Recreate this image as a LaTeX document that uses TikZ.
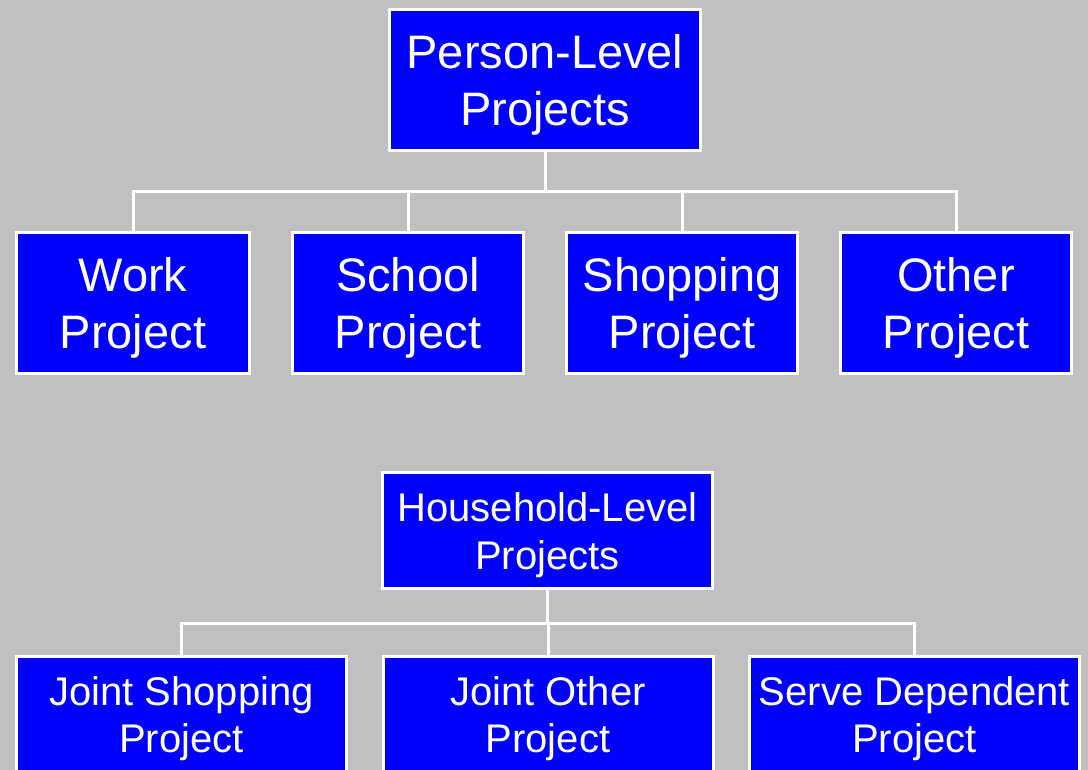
\documentclass[tikz,border=0pt]{standalone}
\usepackage{fontspec}
\setmainfont{Liberation Sans}
\definecolor{bg}{HTML}{C0C0C0}
\definecolor{boxblue}{HTML}{0000FF}
\newcommand{\toprule}{\rule{0pt}{43pt}}
\newcommand{\midrule}{\rule{0pt}{38pt}}
\newcommand{\lowrule}{\rule{0pt}{34pt}}
\tikzset{
  bigbox/.style={draw=white, line width=3pt, fill=boxblue, text=white, align=center,
    inner sep=0pt, minimum height=141pt, font=\fontsize{47}{57}\selectfont},
  smallbox/.style={draw=white, line width=3pt, fill=boxblue, text=white, align=center,
    inner sep=0pt, minimum width=330pt, font=\fontsize{40}{47.5}\selectfont},
  conn/.style={draw=white, line width=3pt}
}
\begin{document}
\begin{tikzpicture}[x=1pt,y=-1pt]
\clip (0,0) rectangle (1088,770);
\fill[bg] (0,0) rectangle (1088,770);
% top tree
\node[bigbox, minimum width=311pt] (P) at (545,80) {\toprule Person-Level\\Projects};
\node[bigbox, minimum width=233pt] (W) at (133,303) {\toprule Work\\Project};
\node[bigbox, minimum width=231pt] (S) at (408,303) {\toprule School\\Project};
\node[bigbox, minimum width=231pt] (Sh) at (682,303) {\toprule Shopping\\Project};
\node[bigbox, minimum width=231pt] (O) at (956,303) {\toprule Other\\Project};
\coordinate (bus1) at (0,192);
\foreach \c in {W,S,Sh,O}{
  \draw[conn] (P.south) -- (P.south |- bus1) -| (\c.north);
}
% bottom tree
\node[smallbox, minimum height=116pt] (H) at (547.5,530.5) {\midrule Household-Level\\Projects};
\node[smallbox, minimum height=120pt] (JS) at (181.5,716) {\lowrule Joint Shopping\\Project};
\node[smallbox, minimum height=120pt] (JO) at (548,716) {\lowrule Joint Other\\Project};
\node[smallbox, minimum height=120pt] (SD) at (914.5,716) {\lowrule Serve Dependent\\Project};
\coordinate (bus2) at (0,623);
\foreach \c in {JS,JO,SD}{
  \draw[conn] (H.south) -- (H.south |- bus2) -| (\c.north);
}
\end{tikzpicture}
\end{document}
